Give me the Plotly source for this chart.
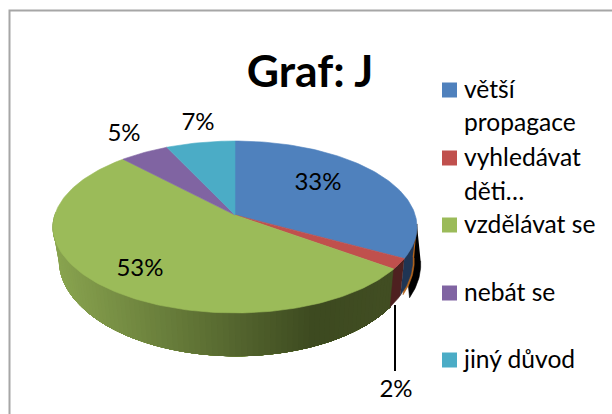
import numpy as np
import plotly.graph_objects as go

# ---- data ----
categories = ["větší propagace", "vyhledávat děti…", "vzdělávat se", "nebát se", "jiný důvod"]
values = [33, 2, 53, 5, 7]
colors = ["#4f81bd", "#c0504d", "#9bbb59", "#8064a2", "#4bacc6"]
side_colors = ["#1f3554", "#4e2020", None, None, None]
legend_lines = [["větší", "propagace"], ["vyhledávat", "děti…"], ["vzdělávat se"], ["nebát se"], ["jiný důvod"]]
title_text = "Graf: J"

# ---- layout constants ----
W, H = 612, 414
FONT = "Lato"
label_x = [318, 396, 140, 124, 198]
label_y = [184, 391, 270, 135, 124]
marker_y = [90, 158, 225, 293, 360]
legend_y = [[92, 125], [160, 194], [227], [295], [362]]
TOP = dict(ax=235, ay=215, bx=180.2, a=84.3, k=0.1395)
BOT = dict(ax=236, ay=247, bx=175, a=93.6, k=0.1395)


def project(theta_deg, p):
    t = np.radians(np.asarray(theta_deg, dtype=float))
    u, v = np.sin(t), np.cos(t)
    w = 1 + p["k"] * v
    return p["ax"] + p["bx"] * u / w, p["ay"] - p["a"] * v / w


def poly(x, y, color, name=None, lw=0.6):
    return go.Scatter(x=list(x), y=list(y), mode="lines", fill="toself", fillcolor=color,
                      line=dict(color=color, width=lw), hoverinfo="skip", showlegend=False, name=name)


def wall(t0, t1, color, dx=0, dy=0, n=30):
    th = np.linspace(t0, t1, n)
    xt, yt = project(th, TOP)
    xb, yb = project(th[::-1], BOT)
    return poly(np.r_[xt, xb + dx], np.r_[yt, yb + dy], color)


cum = np.cumsum([0] + values) * 3.6
fig = go.Figure()

# dark crescent and thin orange edge behind the front-right wall
fig.add_trace(wall(96, cum[1] - 1, "#000000", dx=8, dy=4))
fig.add_trace(wall(96, cum[1] - 1, "#b5651d", dx=1.5, dy=1))

# side walls
fig.add_trace(wall(96, cum[1], side_colors[0]))

# green wall, shaded strip by strip; each strip overlaps the next so no seams show
LIGHT = np.array([138, 165, 80])
DARK = np.array([61, 74, 32])
END = np.array([66, 78, 35])
edges = np.linspace(272, cum[2], 90)
step = edges[1] - edges[0]
for a in edges[:-1]:
    xm, _ = project(a + step / 2, TOP)
    if xm < 315:
        f = (xm - 53) / (315 - 53)
        c = LIGHT + (DARK - LIGHT) * f
    else:
        f = (xm - 315) / (395 - 315)
        c = DARK + (END - DARK) * f
    # step is negative, so the strip runs toward the front right
    fig.add_trace(wall(a, cum[2], "rgb(%d,%d,%d)" % tuple(c), n=60))

fig.add_trace(wall(cum[1], cum[2], side_colors[1]))

# top faces
for i, cat in enumerate(categories):
    th = np.linspace(cum[i], cum[i + 1], max(6, int(values[i] * 3)))
    x, y = project(th, TOP)
    fig.add_trace(poly(np.r_[TOP["ax"], x, TOP["ax"]], np.r_[TOP["ay"], y, TOP["ay"]], colors[i], name=cat))

# leader line of the small slice
fig.add_trace(go.Scatter(x=[395, 395], y=[305, 371], mode="lines", line=dict(color="#000000", width=2),
                         hoverinfo="skip", showlegend=False))

# data labels
fig.add_trace(go.Scatter(x=label_x, y=label_y, mode="text", text=[f"{v}%" for v in values],
                         textposition="middle center", textfont=dict(family=FONT, size=24, color="#000000"),
                         hoverinfo="skip", showlegend=False))

# legend
fig.add_trace(go.Scatter(x=[449.5] * 5, y=marker_y, mode="markers",
                         marker=dict(symbol="square", size=15, color=colors, line=dict(width=0)),
                         hoverinfo="skip", showlegend=False))
lx, ly, lt = [], [], []
for lines, ys in zip(legend_lines, legend_y):
    for s, yy in zip(lines, ys):
        lx.append(464)
        ly.append(yy)
        lt.append(s)
fig.add_trace(go.Scatter(x=lx, y=ly, mode="text", text=lt, textposition="middle right",
                         textfont=dict(family=FONT, size=24.6, color="#000000"),
                         hoverinfo="skip", showlegend=False))

fig.update_layout(
    width=W, height=H, autosize=False, margin=dict(l=0, r=0, t=0, b=0),
    paper_bgcolor="#ffffff", plot_bgcolor="#ffffff",
    title=dict(text=f"<b>{title_text}</b>", x=310 / W, xanchor="center", y=1 - 71 / H, yanchor="middle",
               font=dict(family=FONT, size=44.5, color="#000000")),
    xaxis=dict(range=[0, W], visible=False, fixedrange=True),
    yaxis=dict(range=[H, 0], visible=False, fixedrange=True),
    shapes=[dict(type="rect", xref="x", yref="y", x0=9.5, y0=10.5, x1=W + 20, y1=H + 20,
                 line=dict(color="#a6a6a6", width=2), layer="below")],
)
fig.write_html("out.html", config=dict(displayModeBar=False),
               post_script="document.documentElement.style.overflow='hidden';document.body.style.margin='0';")
